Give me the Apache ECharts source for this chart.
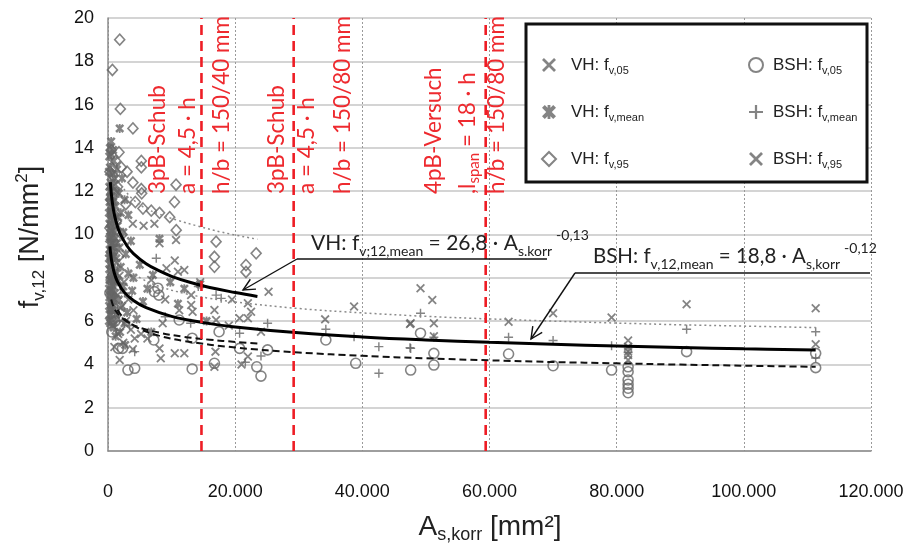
<!DOCTYPE html>
<html><head><meta charset="utf-8">
<script src="https://cdn.jsdelivr.net/npm/echarts@6/dist/echarts.min.js"></script>
<style>html,body{margin:0;padding:0;background:#fff}#c{width:912px;height:552px}</style>
</head><body><div id="c"></div>
<script>
// ---------- data ----------
const xTicks = [0, 20000, 40000, 60000, 80000, 100000, 120000];
const yTicks = [0, 2, 4, 6, 8, 10, 12, 14, 16, 18, 20];
const seriesNames = ['VH: f_v,05', 'VH: f_v,mean', 'VH: f_v,95', 'BSH: f_v,05', 'BSH: f_v,mean', 'BSH: f_v,95'];

const vh05 = [[400,10.2],[700,9.6],[1000,9.0],[1300,8.7],[500,8.3],[1800,8.1],[2500,7.8],[900,7.6],[1500,7.2],[3200,7.0],[600,6.9],[2000,6.6],[4000,6.5],[1200,6.3],[2800,6.0],[800,5.8],[3600,5.6],[1600,5.4],[5200,5.4],[2400,5.0],[6200,5.2],[3900,4.7],[1000,4.8],[1840,4.2],[5600,10.4],[3900,10.5],[7300,10.5],[8100,9.6],[10700,9.75],[10500,8.8],[9200,8.44],[11000,8.28],[12000,8.36],[13080,7.2],[13080,6.74],[11200,6.5],[13300,6.43],[8600,5.9],[4200,5.2],[8100,4.74],[8300,4.28],[10500,4.51],[12000,4.51],[6800,7.9],[9000,7.0],[16740,6.51],[16740,3.89],[16900,4.59],[20700,6.13],[22000,6.82],[22500,6.43],[22000,6.13],[24060,5.51],[22000,4.36],[19000,5.8],[21000,4.0]];
const vhMean = [[300,14.0],[1840,14.9],[500,13.7],[900,13.4],[300,13.1],[1400,13.0],[700,12.8],[2200,12.6],[400,12.4],[1100,12.3],[600,12.0],[1700,11.9],[300,11.7],[2600,11.6],[800,11.5],[1200,11.3],[500,11.1],[2000,11.0],[3200,10.9],[400,10.7],[900,10.6],[1500,10.4],[700,10.2],[2400,10.1],[300,9.9],[1100,9.8],[3600,9.7],[600,9.6],[1800,9.4],[800,9.2],[2800,9.1],[400,9.0],[1300,8.9],[8100,9.8],[7060,8.13],[5000,8.6],[600,8.7],[2000,8.5],[1000,8.3],[3200,8.2],[500,8.0],[1500,7.9],[700,7.7],[2400,7.6],[400,7.4],[1100,7.3],[3800,7.4],[800,7.1],[1700,7.0],[600,6.8],[2200,6.7],[1000,6.5],[3000,6.4],[500,6.3],[1400,6.1],[700,6.0],[2600,5.9],[900,5.7],[1900,5.5],[1200,5.3],[4500,6.1],[5500,6.9],[6200,7.5],[4000,8.0],[9800,7.8],[12000,7.5],[14500,7.7],[11000,6.8],[15500,6.0],[6800,5.5],[2700,4.9],
  [150,12.9],[200,12.2],[250,11.5],[150,11.0],[220,10.5],[180,9.8],[260,9.3],[150,8.9],[200,8.4],[240,7.9],[160,7.5],[220,7.1],[180,6.7],[250,6.3],[150,6.0],[350,12.0],[450,11.3],[350,10.3],[450,9.5],[350,8.6],[450,7.9],[350,7.2],[450,6.6],[350,5.9],[600,10.9],[650,9.9],[600,9.0],[650,8.1],[600,7.4],[650,6.5],[1000,12.6],[1000,11.6],[1000,10.1],[1000,9.4],[1000,7.8],[1000,7.0],[1300,8.2],[1400,9.6],[1600,10.8],[1300,12.0],[800,13.9],[500,14.3],[200,13.6]];
const vh95 = [[1840,19.0],[690,17.6],[1940,15.8],[3920,14.9],[1730,13.8],[5240,13.4],[5240,13.1],[2100,13.1],[800,12.7],[3920,12.4],[5240,12.1],[10700,12.3],[5300,11.9],[10460,11.5],[5500,11.2],[6800,11.1],[8100,11.0],[9700,10.8],[10730,10.2],[17000,9.67],[16740,8.97],[16740,8.51],[23300,9.13],[21700,8.59],[21700,8.27],[500,13.9],[1200,13.4],[300,12.9],[1500,12.2],[400,11.6],[2800,11.4],[700,11.0],[1300,10.6],[300,10.3],[2200,10.0],[900,9.7],[500,9.2],[1700,9.0],[3000,12.9],[4300,11.5]];
const bsh05 = [[780,6.6],[1650,4.74],[2270,4.74],[3140,3.74],[4200,3.82],[7200,5.13],[13240,5.21],[13240,3.79],[16740,4.05],[17470,5.51],[11200,6.05],[7840,7.52],[7300,7.36],[8000,7.2],[500,7.9],[300,7.3],[1100,6.0],[600,5.5],[1800,5.8],[20700,4.74],[25100,4.67],[23400,3.89],[24060,3.46],[34260,5.13],[38960,4.05],[47600,3.74],[49150,5.44],[51250,4.51],[51250,3.97],[63000,4.48],[70000,3.94],[79200,3.74],[81800,3.89],[81800,3.66],[81800,3.28],[81800,3.08],[81800,2.90],[81800,2.69],[91000,4.59],[111300,4.51],[111300,3.85]];
const bshMean = [[7590,8.9],[4200,4.59],[17000,7.2],[17800,7.05],[25100,5.90],[20700,5.44],[24060,4.39],[34260,5.62],[38700,5.28],[42600,4.82],[42600,3.59],[47500,4.77],[49150,6.36],[47600,4.74],[51250,5.25],[63000,5.25],[70000,5.10],[79200,4.86],[81800,4.55],[91000,5.62],[111300,5.51],[111300,4.30],[1500,8.5],[2600,7.3],[800,6.8],[3400,5.8],[300,9.0],[1200,7.9],[13000,5.9],[9000,6.2],[21600,4.1],[14200,7.6]];
const bsh95 = [[63000,5.97],[70000,6.36],[79200,6.17],[81800,5.10],[81800,4.82],[81800,4.59],[81800,4.43],[81800,4.20],[91000,6.78],[111300,6.59],[111300,4.93],[25250,7.36],[34150,6.08],[38700,6.67],[47500,5.87],[49150,7.52],[51000,6.97],[47600,5.90],[51250,5.90],[51250,5.3],[14500,7.8],[17000,6.05],[19500,7.0]];

// trend curves
const vhMeanFit = [[370,12.42],[500,11.95],[700,11.44],[1000,10.92],[1500,10.36],[2000,9.98],[3000,9.47],[4000,9.12],[6000,8.65],[8000,8.33],[10000,8.07],[13000,7.78],[16000,7.55],[20000,7.32],[23500,7.14]];
const bshMeanFit = [[300,9.45],[400,9.16],[600,8.73],[1000,8.21],[1500,7.82],[2500,7.35],[4000,6.95],[6000,6.62],[10000,6.22],[15000,5.93],[20000,5.73],[30000,5.46],[40000,5.27],[50000,5.13],[60000,5.02],[70000,4.93],[80000,4.85],[90000,4.78],[100000,4.72],[111300,4.67]];
const vh95Fit = [[2500,12.1],[4000,11.6],[6000,11.2],[8000,10.95],[11000,10.65],[14000,10.4],[18000,10.1],[23500,9.78]];
const bsh95Fit = [[3000,8.47],[5000,8.01],[8000,7.61],[12000,7.28],[16000,7.05],[20000,6.88],[30000,6.58],[40000,6.38],[50000,6.22],[60000,6.10],[70000,6.00],[80000,5.91],[90000,5.83],[100000,5.77],[111300,5.70]];
const vh05Fit = [[500,7.0],[800,6.72],[1200,6.48],[2000,6.19],[3000,5.97],[5000,5.70],[8000,5.47],[12000,5.27],[16000,5.14],[20000,5.04],[23500,4.97]];
const bsh05Fit = [[1500,6.52],[2000,6.30],[3000,6.00],[5000,5.64],[8000,5.33],[12000,5.08],[20000,4.78],[30000,4.55],[40000,4.40],[50000,4.28],[60000,4.19],[70000,4.11],[80000,4.05],[90000,3.99],[100000,3.94],[111300,3.89]];

const testLimits = [14700, 29200, 59400];

// ---------- chart ----------
const GRAY = '#656565';
const X_PATH = 'path://M0,1.4L1.4,0L5,3.6L8.6,0L10,1.4L6.4,5L10,8.6L8.6,10L5,6.4L1.4,10L0,8.6L3.6,5Z';
const AST_PATH = 'path://M0,2L2,0L5,3L8,0L10,2L7,5L10,8L8,10L5,7L2,10L0,8L3,5Z M4,0L6,0L6,10L4,10Z';
const PLUS_PATH = 'path://M4.2,0L5.8,0L5.8,4.2L10,4.2L10,5.8L5.8,5.8L5.8,10L4.2,10L4.2,5.8L0,5.8L0,4.2L4.2,4.2Z';

function scatter(name, data, symbol, size, hollow) {
  return {
    type: 'scatter', name, data, symbol, symbolSize: size, z: 2,
    itemStyle: hollow ? { color: 'rgba(255,255,255,0)', borderColor: GRAY, borderWidth: 1.6 } : { color: GRAY },
    emphasis: { disabled: true }
  };
}
function fit(data, color, width, type) {
  return { type: 'line', data, showSymbol: false, symbol: 'none', smooth: 0.4, z: 3, silent: true,
    lineStyle: { color, width, type }, emphasis: { disabled: true } };
}

const series = [
  scatter(seriesNames[0], vh05, X_PATH, 9, false),
  scatter(seriesNames[1], vhMean, AST_PATH, 9, false),
  scatter(seriesNames[2], vh95, 'diamond', [10, 11], true),
  scatter(seriesNames[3], bsh05, 'circle', 10, true),
  scatter(seriesNames[4], bshMean, PLUS_PATH, 9, false),
  scatter(seriesNames[5], bsh95, X_PATH, 9, false),
  fit(vh95Fit, '#8a8a8a', 1.5, [2, 3]),
  fit(bsh95Fit, '#8a8a8a', 1.5, [2, 3]),
  fit(vh05Fit, '#111', 2, [7, 4]),
  fit(bsh05Fit, '#111', 2, [7, 4]),
  fit(vhMeanFit, '#000', 3, 'solid'),
  fit(bshMeanFit, '#000', 3, 'solid')
];
testLimits.forEach(v => series.push({
  type: 'line', data: [[v, 0], [v, 20]], symbol: 'none', z: 4, silent: true,
  lineStyle: { color: '#ee1d25', width: 2.6, type: [10, 6] }
}));

function legendText(gap) {
  return {
    fontFamily: 'Liberation Sans', fontSize: 17, color: '#222', lineHeight: 22,
    rich: {
      g: { width: gap, fontSize: 17, lineHeight: 22 },
      s: { fontFamily: 'Liberation Sans', fontSize: 11, color: '#222', lineHeight: 12, verticalAlign: 'bottom' }
    }
  };
}
const legendFmt = n => { const p = n.split('_'); return '{g|}' + p[0] + '{s|' + p[1] + '}'; };

const RED = '#ee2a2f';
const redRich = { s: { fontFamily: 'Lato', fontSize: 15, fill: RED, lineHeight: 15, verticalAlign: 'bottom' } };
const redLabels = [[158, '3pB-Schub'], [188, 'a = 4,5 · h'], [222, 'h/b = 150/40 mm'],
  [277, '3pB-Schub'], [307, 'a = 4,5 · h'], [343, 'h/b = 150/80 mm'],
  [434, '4pB-Versuch'], [468, ',l{s|span} = 18 · h'], [497, 'h/b = 150/80 mm']];

const formulaRich = {
  s: { fontFamily: 'Lato', fontSize: 14, fill: '#222', lineHeight: 14, verticalAlign: 'bottom' },
  p: { fontFamily: 'Lato', fontSize: 14, fill: '#222', lineHeight: 14, verticalAlign: 'top', padding: [0, 0, 0, 4] }
};

function arrow(x1, y1, x2, y2) {
  const a = Math.atan2(y2 - y1, x2 - x1), L = 13, w = 0.45;
  return [
    { type: 'polyline', shape: { points: [[x1, y1], [x2, y2]] }, style: { stroke: '#111', lineWidth: 1.4 }, z: 10 },
    { type: 'polyline', shape: { points: [[x2 - L * Math.cos(a - w), y2 - L * Math.sin(a - w)], [x2, y2], [x2 - L * Math.cos(a + w), y2 - L * Math.sin(a + w)]] },
      style: { stroke: '#111', lineWidth: 1.4, fill: null }, z: 10 }
  ];
}

const graphic = [
  { type: 'rect', shape: { x: 526, y: 24, width: 341, height: 158 }, style: { fill: '#fff', stroke: '#111', lineWidth: 3 }, z: 3 },
  ...redLabels.map(([x, t]) => ({ type: 'text', x, y: 194, rotation: Math.PI / 2, z: 10,
    style: { text: t, fontFamily: 'Lato', fontSize: 22.5, fill: RED, align: 'left', verticalAlign: 'middle', lineHeight: 28, rich: redRich } })),
  { type: 'text', x: 311, y: 243, z: 10,
    style: { text: 'VH: f{s|v;12,mean} = 26,8 · A{s|s.korr}{p|-0,13}', fontFamily: 'Lato', fontSize: 21, fill: '#222', lineHeight: 30, verticalAlign: 'middle', rich: formulaRich } },
  { type: 'polyline', shape: { points: [[297, 259], [547, 259]] }, style: { stroke: '#111', lineWidth: 1.4 }, z: 10 },
  ...arrow(297, 259, 243, 290),
  { type: 'text', x: 593, y: 256, z: 10,
    style: { text: 'BSH: f{s|v,12,mean} = 18,8 · A{s|s,korr}{p|-0,12}', fontFamily: 'Lato', fontSize: 20.5, fill: '#222', lineHeight: 30, verticalAlign: 'middle', rich: formulaRich } },
  { type: 'polyline', shape: { points: [[575, 273], [870, 273]] }, style: { stroke: '#111', lineWidth: 1.4 }, z: 10 },
  ...arrow(575, 273, 531, 339),
  { type: 'text', x: 31, y: 237, rotation: Math.PI / 2, z: 10,
    style: { text: 'f{s|v,12} [N/mm{p|2}]', fontFamily: 'Liberation Sans', fontSize: 27, fill: '#222', lineHeight: 34, align: 'center', verticalAlign: 'middle',
      rich: { s: { fontFamily: 'Liberation Sans', fontSize: 17, fill: '#222', lineHeight: 17, verticalAlign: 'bottom' },
              p: { fontFamily: 'Liberation Sans', fontSize: 17, fill: '#222', lineHeight: 17, verticalAlign: 'top' } } } },
  { type: 'text', x: 490, y: 527, z: 10,
    style: { text: 'A{s|s,korr} [mm²]', fontFamily: 'Liberation Sans', fontSize: 28, fill: '#222', lineHeight: 34, align: 'center', verticalAlign: 'middle',
      rich: { s: { fontFamily: 'Liberation Sans', fontSize: 18, fill: '#222', lineHeight: 18, verticalAlign: 'bottom' } } } }
];

const chart = echarts.init(document.getElementById('c'), null, { renderer: 'canvas' });
chart.setOption({
  animation: false,
  backgroundColor: '#fff',
  grid: { left: 108, right: 41, top: 18, bottom: 101, containLabel: false },
  xAxis: {
    type: 'value', min: xTicks[0], max: xTicks[xTicks.length - 1], interval: xTicks[1] - xTicks[0],
    axisLine: { show: true, lineStyle: { color: '#8c8c8c', width: 1.5 } },
    axisTick: { show: false },
    axisLabel: { fontFamily: 'Liberation Sans', fontSize: 18, color: '#111', margin: 32,
      formatter: v => v === 0 ? '0' : (v / 1000) + '.000' },
    splitLine: { show: true, lineStyle: { color: '#9a9a9a', width: 1, type: [2, 2] } }
  },
  yAxis: {
    type: 'value', min: yTicks[0], max: yTicks[yTicks.length - 1], interval: yTicks[1] - yTicks[0],
    axisLine: { show: true, lineStyle: { color: '#8c8c8c', width: 1.5 } },
    axisTick: { show: false },
    axisLabel: { fontFamily: 'Liberation Sans', fontSize: 18, color: '#111', margin: 14 },
    splitLine: { show: true, lineStyle: { color: '#c6c6c6', width: 1.5 } }
  },
  legend: [
    { data: seriesNames.slice(0, 3), orient: 'vertical', left: 536, top: 49, itemWidth: 14, itemHeight: 14, itemGap: 25,
      selectedMode: false, textStyle: legendText(10), formatter: legendFmt, z: 5 },
    { data: seriesNames.slice(3), orient: 'vertical', left: 743, top: 49, itemWidth: 14, itemHeight: 14, itemGap: 25,
      selectedMode: false, textStyle: legendText(5), formatter: legendFmt, z: 5 }
  ],
  graphic,
  series
});
</script>
</body></html>
